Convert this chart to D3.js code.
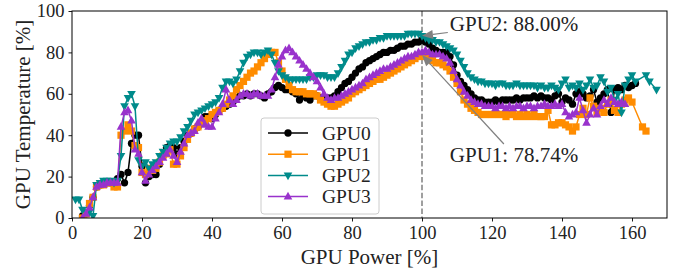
<!DOCTYPE html>
<html>
<head>
<meta charset="utf-8">
<script src="https://cdn.jsdelivr.net/npm/d3@7"></script>
<style>
  body { margin: 0; background: #fff; }
  svg text { font-family: "Liberation Serif", "DejaVu Serif", serif; fill: #222; }
</style>
</head>
<body>
<div id="chart"></div>
<script>
// GPU power [%] sample points (shared by all four GPUs, null = no sample)
const power = [
  1, 2, 3, 4, 5, 6, 7, 8, 9, 10,
  11, 12, 13, 14, 15, 16, 17, 18, 19, 20,
  21, 22, 23, 24, 25, 26, 27, 28, 29, 30,
  31, 32, 33, 34, 35, 36, 37, 38, 39, 40,
  41, 42, 43, 44, 45, 46, 47, 48, 49, 50,
  51, 52, 53, 54, 55, 56, 57, 58, 59, 60,
  61, 62, 63, 64, 65, 66, 67, 68, 69, 70,
  71, 72, 73, 74, 75, 76, 77, 78, 79, 80,
  81, 82, 83, 84, 85, 86, 87, 88, 89, 90,
  91, 92, 93, 94, 95, 96, 97, 98, 99, 100,
  101, 102, 103, 104, 105, 106, 107, 108, 109, 110,
  111, 112, 113, 114, 115, 116, 117, 118, 119, 120,
  121, 122, 123, 124, 125, 126, 127, 128, 129, 130,
  131, 132, 133, 134, 135, 136, 137, 138, 139, 140,
  141, 142, 143, 144, 145, 146, 147, 148, 149, 150,
  151, 152, 153, 154, 155, 156, 157, 158, 159, 160,
  161, 162, 163, 164, 165, 166, 167
];

const gpu0 = [
  null, null, 1, 2, 6, 10, 15, 16, 17, 17,
  17, 17, 19, 21, 17, 22, 36, 40, 40, 25,
  17, 20, 21, 21, 26, 30, 34, 35, 34, 31,
  34, 37, 40, 41, 43, 44, 46, 49, 49, 48,
  50, 52, 53, 54, 55, 56, 58, 59, 59, 60,
  59, 60, 60, 59, 58, 60, 61, 63, 64, 63,
  62, 62, 61, 60, 57, 59, 58, 57, 59, 59,
  58, 58, 58, 58, 59, 61, 63, 65, 66, 68,
  70, 72, 73, 75, 76, 77, 78, 79, 80, 80,
  81, 81, 82, 83, 83, 84, 84, 85, 85, 86,
  85, 84, 82, 81, 80, 80, 80, 78, 74, 69,
  66, 64, 62, 60, 58, 57, 57, 56, 56, 56,
  57, 56, 57, 57, 57, 57, 58, 57, 58, 58,
  58, 59, 58, 59, 58, 58, 57, 59, 60, 56,
  58, 57, 55, 60, 61, 60, 58, 59, 62, 56,
  58, 60, 62, 51, 62, 63, 62, 64, 63, 64,
  65, null, null, null, null, null, null
];

const gpu1 = [
  null, null, 0, 2, 7, 10, 15, 16, 16, 17,
  17, 15, 15, 40, 42, 45, 42, 35, 34, 22,
  21, 24, 23, 24, 27, 30, 31, 33, 26, 26,
  30, 34, 38, 41, 43, 44, 46, 47, 48, 50,
  51, 52, 53, 55, 57, 59, 62, 64, 66, 68,
  70, 71, 73, 75, 77, 79, 80, 80, 75, 71,
  67, 64, 62, 61, 61, 61, 60, 60, 60, 59,
  57, 56, 55, 54, 54, 55, 56, 57, 58, 60,
  61, 62, 63, 64, 65, 66, 67, 67, 68, 69,
  70, 71, 72, 73, 74, 75, 76, 77, 78, 78.74,
  78, 77, 76, 75, 75, 74, 73, 71, 68, 65,
  61, 57, 55, 53, 52, 51, 50, 50, 50, 50,
  50, 50, 50, 49, 50, 50, 49, 50, 49, 50,
  49, 50, 49, 49, 49, 52, 45, 45, 46, 46,
  45, 44, 42, 44, 50, 53, 50, 58, 54, 51,
  53, 51, 55, 57, 52, 51, 55, 57, 58, 56,
  null, null, 44, 42, null, null, null
];

const gpu2 = [
  9, 9, 4, 3, 3, 1, 16, 17, 18, 18,
  18, 17, 18, 30, 54, 58, 60, 54, 28, 25,
  27, 24, 26, 27, 30, 32, 34, 36, 37, 37,
  39, 42, 44, 47, 50, 51, 52, 53, 54, 55,
  56, 58, 63, 66, 66, 65, 67, 71, 75, 78,
  79, 80, 80, 79, 80, 81, 79, 75, 71, 69,
  68, 67, 67, 67, 67, 67, 67, 68, 68, 69,
  69, 69, 68, 68, 68, 70, 73, 76, 79, 80,
  82, 83, 84, 85, 85, 86, 86, 87, 87, 88,
  88, 88, 88, 88, 88, 89, 89, 89, 89, 88,
  87, 86, 86, 85, 85, 84, 83, 82, 81, 79,
  76, 73, 70, 68, 67, 66, 66, 65, 65, 65,
  64, 65, 65, 64, 64, 64, 65, 64, 64, 64,
  64, 64, 63, 64, 63, 63, 64, 63, 62, 65,
  67, 63, 64, 63, 65, 62, 64, 67, 63, 64,
  68, 66, 61, 63, 57, 60, 51, 64, 67, 69,
  66, null, null, 69, 66, null, 62
];

const gpu3 = [
  null, null, 0, 2, 5, 10, 15, 16, 16, 17,
  17, 17, 17, 44, 51, 52, 47, 33, 31, 22,
  18, 21, 23, 25, 27, 29, 31, 33, 30, 27,
  32, 36, 40, 41, 42, 46, 48, 45, 44, 44,
  48, 51, 55, 62, 57, 55, 57, 59, 60, 60,
  59, 60, 60, 59, 59, 59, 62, 68, 74, 78,
  81, 82, 80, 78, 76, 74, 72, 70, 68, 66,
  63, 60, 58, 57, 58, 58, 59, 60, 61, 62,
  63, 64, 65, 67, 68, 69, 70, 71, 72, 72,
  73, 74, 75, 76, 77, 78, 78, 79, 80, 80,
  81, 80, 79, 79, 79, 78, 77, 75, 71, 67,
  64, 61, 59, 57, 56, 55, 55, 54, 54, 54,
  53, 54, 54, 53, 54, 53, 54, 54, 53, 54,
  54, 53, 54, 54, 55, 54, 54, 55, 54, 55,
  51, 49, 50, 51, 58, 52, 46, 50, 53, 50,
  54, 57, 55, 58, 56, 55, 56, 55, null, null,
  null, null, null, null, null, null, null
];

const seriesNames = ['GPU0', 'GPU1', 'GPU2', 'GPU3'];
const seriesValues = [gpu0, gpu1, gpu2, gpu3];
const seriesColors = ['#000000', '#ff8c00', '#008b8b', '#9932cc'];
const seriesMarkers = ['circle', 'square', 'triDown', 'triUp'];

const xTicks = [0, 20, 40, 60, 80, 100, 120, 140, 160];
const yTicks = [0, 20, 40, 60, 80, 100];

// annotated points at 100 % power
const notes = [
  { label: 'GPU2: 88.00%', x: 100, y: 88.00 },
  { label: 'GPU1: 78.74%', x: 100, y: 78.74 }
];

const W = 678, H = 272;
const margin = { top: 11, right: 11, bottom: 54, left: 72 };
const width = W - margin.left - margin.right;
const height = H - margin.top - margin.bottom;

const svg = d3.select('#chart').append('svg')
  .attr('width', W)
  .attr('height', H);

const x = d3.scaleLinear().domain([0, 170]).range([0, width]);
const y = d3.scaleLinear().domain([0, 100]).range([height, 0]);

svg.append('defs')
  .append('clipPath')
  .attr('id', 'clip')
  .append('rect')
  .attr('width', width)
  .attr('height', height);

const g = svg.append('g')
  .attr('transform', `translate(${margin.left}, ${margin.top})`);

function markerPath(type) {
  if (type === 'circle') return d3.symbol(d3.symbolCircle, 42)();
  if (type === 'square') return 'M-3.6,-3.6H3.6V3.6H-3.6Z';
  if (type === 'triUp') return 'M0,-4.8L4.3,2.9L-4.3,2.9Z';
  return 'M0,4.8L4.3,-2.9L-4.3,-2.9Z';
}

// vertical reference line at 100 %
g.append('line')
  .attr('x1', x(100)).attr('x2', x(100))
  .attr('y1', 0).attr('y2', height)
  .attr('stroke', '#808080')
  .attr('stroke-width', 1.5)
  .attr('stroke-dasharray', '5.5,2.4');

const plot = g.append('g').attr('clip-path', 'url(#clip)');

const line = d3.line()
  .x(d => x(d[0]))
  .y(d => y(d[1]));

seriesValues.forEach((vals, i) => {
  const pts = power.map((p, j) => [p, vals[j]]).filter(d => d[1] != null);
  plot.append('path')
    .datum(pts)
    .attr('fill', 'none')
    .attr('stroke', seriesColors[i])
    .attr('stroke-width', 1.5)
    .attr('d', line);
  plot.append('g')
    .selectAll('path')
    .data(pts)
    .enter()
    .append('path')
    .attr('d', markerPath(seriesMarkers[i]))
    .attr('transform', d => `translate(${x(d[0])}, ${y(d[1])})`)
    .attr('fill', seriesColors[i]);
});

// axes
const xAxis = g.append('g')
  .attr('transform', `translate(0, ${height})`)
  .call(d3.axisBottom(x).tickValues(xTicks).tickSize(3.5).tickPadding(4).tickSizeOuter(0));
const yAxis = g.append('g')
  .call(d3.axisLeft(y).tickValues(yTicks).tickSize(3.5).tickPadding(4).tickSizeOuter(0));

[xAxis, yAxis].forEach(a => {
  a.select('.domain').remove();
  a.selectAll('text')
    .style('font-family', '"Liberation Serif", serif')
    .style('font-size', '18.5px')
    .attr('fill', '#222');
  a.selectAll('line').attr('stroke', '#000').attr('stroke-width', 0.9);
});

g.append('rect')
  .attr('width', width)
  .attr('height', height)
  .attr('fill', 'none')
  .attr('stroke', '#000')
  .attr('stroke-width', 1);

svg.append('text')
  .attr('x', margin.left + width / 2)
  .attr('y', 264)
  .attr('text-anchor', 'middle')
  .style('font-size', '21px')
  .text('GPU Power [%]');

svg.append('text')
  .attr('transform', `translate(30, ${margin.top + height / 2}) rotate(-90)`)
  .attr('text-anchor', 'middle')
  .style('font-size', '21px')
  .text('GPU Temperature [%]');

// annotations with arrows
const noteText = [{ cx: 514, cy: 24 }, { cx: 514, cy: 155 }];
notes.forEach((n, i) => {
  const t = svg.append('text')
    .attr('x', noteText[i].cx)
    .attr('y', noteText[i].cy + 7)
    .attr('text-anchor', 'middle')
    .style('font-size', '21px')
    .text(n.label);
  const bb = t.node().getBBox();
  const cx = bb.x + bb.width / 2, cy = bb.y + bb.height / 2;
  const tx = margin.left + x(n.x), ty = margin.top + y(n.y);
  const dx = tx - cx, dy = ty - cy;
  // clip start point to the text box
  const sx = Math.abs(dx) > 0 ? (bb.width / 2 + 2) / Math.abs(dx) : Infinity;
  const sy = Math.abs(dy) > 0 ? (bb.height / 2 - 1) / Math.abs(dy) : Infinity;
  const s = Math.min(sx, sy);
  const x0 = cx + dx * s, y0 = cy + dy * s;
  const len = Math.hypot(tx - x0, ty - y0);
  const ux = (tx - x0) / len, uy = (ty - y0) / len;
  const hl = 11, hw = 4.5;
  const bx = tx - ux * hl, by = ty - uy * hl;
  svg.append('line')
    .attr('x1', x0).attr('y1', y0)
    .attr('x2', bx).attr('y2', by)
    .attr('stroke', '#808080')
    .attr('stroke-width', 1.2);
  svg.append('path')
    .attr('d', `M${tx},${ty}L${bx - uy * hw},${by + ux * hw}L${bx + uy * hw},${by - ux * hw}Z`)
    .attr('fill', '#808080');
});

// legend
const legend = svg.append('g').attr('transform', 'translate(261, 118)');
legend.append('rect')
  .attr('width', 118)
  .attr('height', 96)
  .attr('rx', 3)
  .attr('fill', '#fff')
  .attr('fill-opacity', 0.8)
  .attr('stroke', '#cccccc')
  .attr('stroke-width', 1);

seriesNames.forEach((name, i) => {
  const row = legend.append('g').attr('transform', `translate(0, ${15 + i * 21.2})`);
  row.append('line')
    .attr('x1', 7).attr('x2', 47)
    .attr('stroke', seriesColors[i])
    .attr('stroke-width', 1.5);
  row.append('path')
    .attr('d', markerPath(seriesMarkers[i]))
    .attr('transform', 'translate(27, 0)')
    .attr('fill', seriesColors[i]);
  row.append('text')
    .attr('x', 61)
    .attr('y', 6.5)
    .style('font-size', '19.5px')
    .text(name);
});
</script>
</body>
</html>
